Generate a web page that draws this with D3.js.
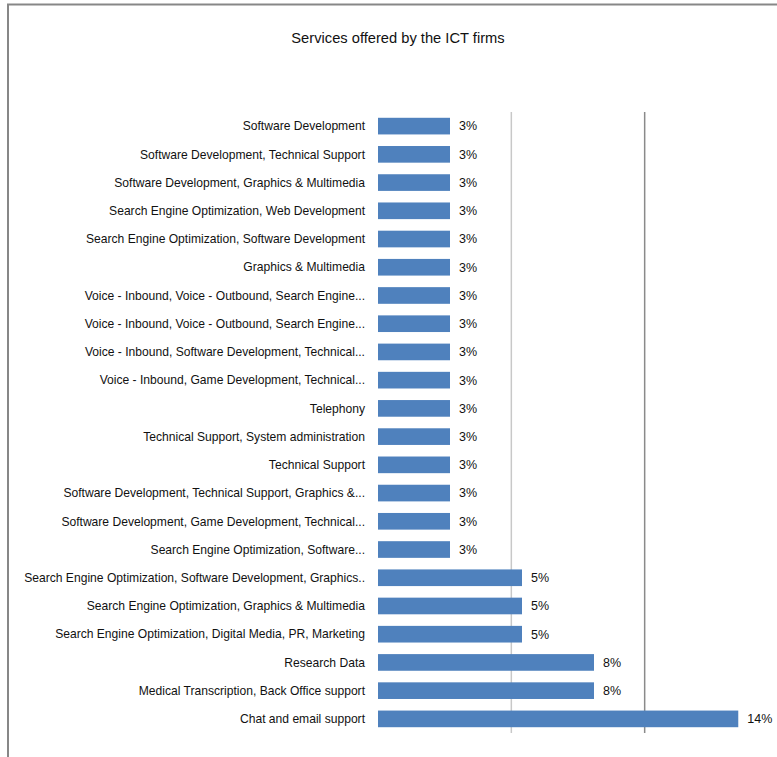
<!doctype html>
<html lang="en">
<head>
  <meta charset="utf-8">
  <title>Services offered by the ICT firms</title>
  <script src="https://cdn.jsdelivr.net/npm/d3@7"></script>
  <style>
    body { margin: 0; background: #fff; }
    svg text { font-family: "Liberation Sans", Arial, sans-serif; fill: #111; }
  </style>
</head>
<body>
<div id="chart"></div>
<script>
// categories top to bottom, as shown
var services = [
  "Software Development",
  "Software Development, Technical Support",
  "Software Development, Graphics & Multimedia",
  "Search Engine Optimization, Web Development",
  "Search Engine Optimization, Software Development",
  "Graphics & Multimedia",
  "Voice - Inbound, Voice - Outbound, Search Engine...",
  "Voice - Inbound, Voice - Outbound, Search Engine...",
  "Voice - Inbound, Software Development, Technical...",
  "Voice - Inbound, Game Development, Technical...",
  "Telephony",
  "Technical Support, System administration",
  "Technical Support",
  "Software Development, Technical Support, Graphics &...",
  "Software Development, Game Development, Technical...",
  "Search Engine Optimization, Software...",
  "Search Engine Optimization, Software Development, Graphics..",
  "Search Engine Optimization, Graphics & Multimedia",
  "Search Engine Optimization, Digital Media, PR, Marketing",
  "Research Data",
  "Medical Transcription, Back Office support",
  "Chat and email support"
];
var shares = [0.027, 0.027, 0.027, 0.027, 0.027, 0.027, 0.027, 0.027, 0.027, 0.027, 0.027,
              0.027, 0.027, 0.027, 0.027, 0.027, 0.054, 0.054, 0.054, 0.081, 0.081, 0.1351];
var gridTicks = [0.05, 0.10];
var gridColors = ["#c8c8c8", "#8a8a8a"];

var W = 777, H = 757;
var svg = d3.select("#chart").append("svg").attr("width", W).attr("height", H);

// frame (chart area border, cut off at right/bottom)
svg.append("path")
  .attr("d", "M8,757V4.5H777")
  .attr("fill", "none")
  .attr("stroke", "#878787")
  .attr("stroke-width", 2);

svg.append("text")
  .attr("x", 398).attr("y", 43)
  .attr("text-anchor", "middle")
  .style("font-size", "14.7px")
  .text("Services offered by the ICT firms");

var x = d3.scaleLinear().domain([0, 0.15]).range([378, 778]);
var y = d3.scaleBand().domain(d3.range(services.length)).range([112, 733]).paddingInner(0.41).paddingOuter(0.205);

svg.selectAll(".grid").data(gridTicks).enter().append("line")
  .attr("class", "grid")
  .attr("x1", d => x(d)).attr("x2", d => x(d))
  .attr("y1", 112).attr("y2", 733)
  .attr("stroke", (d, i) => gridColors[i])
  .attr("stroke-width", 1.5);

svg.selectAll(".bar").data(shares).enter().append("rect")
  .attr("class", "bar")
  .attr("x", x(0))
  .attr("y", (d, i) => y(i))
  .attr("width", d => x(d) - x(0))
  .attr("height", y.bandwidth())
  .attr("fill", "#4f81bd");

svg.selectAll(".cat").data(services).enter().append("text")
  .attr("class", "cat")
  .attr("x", 365)
  .attr("y", (d, i) => y(i) + y.bandwidth() / 2)
  .attr("dy", "0.35em")
  .attr("text-anchor", "end")
  .style("font-size", "12.1px")
  .text(d => d);

var fmt = d3.format(".0%");
svg.selectAll(".val").data(shares).enter().append("text")
  .attr("class", "val")
  .attr("x", d => x(d) + 9)
  .attr("y", (d, i) => y(i) + y.bandwidth() / 2)
  .attr("dy", "0.35em")
  .style("font-size", "12.5px")
  .text(d => fmt(d));
</script>
</body>
</html>
